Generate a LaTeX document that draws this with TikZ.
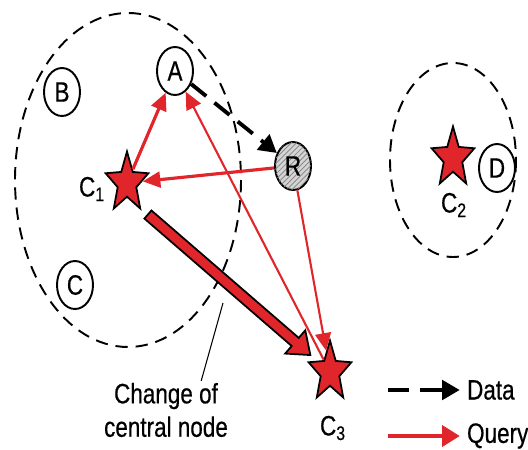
\documentclass[tikz,border=0pt]{standalone}
\usepackage{fontspec}
\setmainfont{Liberation Sans}[FakeStretch=0.8, FakeBold=0.5]
\usetikzlibrary{arrows.meta, positioning, shapes.geometric, shapes.arrows, calc, patterns}
\definecolor{rojo}{HTML}{E0262B}
\definecolor{grisr}{HTML}{D4D4D4}
\tikzset{
  every picture/.style={font=\fontsize{16}{19}\selectfont, >=Triangle},
  nodo/.style={ellipse, draw, line width=1.1pt, minimum width=0.72cm, minimum height=0.96cm, inner sep=0pt},
  centro/.style={star, star points=5, star point ratio=2.3, draw, fill=rojo, line width=1pt,
                 minimum size=0.9cm, inner sep=0pt, yscale=1.4},
  grupo/.style={draw, line width=1.1pt, dash pattern=on 7pt off 4.5pt},
  consulta/.style={-{Triangle[length=10pt, width=9pt]}, line width=1.8pt, rojo},
  consultaf/.style={-{Triangle[length=10pt, width=9pt]}, line width=1.2pt, rojo},
  datos/.style={-{Triangle[length=10pt, width=11pt]}, line width=2.2pt, dash pattern=on 11pt off 6pt},
  cambio/.style={single arrow, draw, fill=rojo, line width=1pt, inner sep=0.09cm,
                 single arrow head extend=0.2cm, single arrow tip angle=75},
  etiqueta/.style={inner sep=1pt},
}

\begin{document}
\begin{tikzpicture}[x=0.02cm, y=-0.02cm]
  \useasboundingbox (0,0) rectangle (528,450);
  % grupos
  \draw[grupo] (128,180) ellipse [x radius=113, y radius=167];
  \draw[grupo] (453,160) ellipse [x radius=63, y radius=97];
  % nodos
  \node[nodo] (A) at (175,71) {A};
  \node[nodo] (B) at (62,92) {B};
  \node[nodo] (C) at (75,285) {C};
  \node[nodo] (D) at (497,168) {D};
  \node[nodo, fill=grisr, postaction={pattern=north east lines, pattern color=gray}] (R) at (293,166) {R};
  \node[centro] (C1) at (127,183) {};
  \node[centro] (C2) at (453,158) {};
  \node[centro] (C3) at (330,372) {};
  \node[etiqueta] (C1l) at (92,189) {C\textsubscript{1}};
  \node[etiqueta] (C2l) at (454,205) {C\textsubscript{2}};
  \node[etiqueta] (C3l) at (333,428) {C\textsubscript{3}};
  % cambio de nodo central
  \coordinate (fs) at ($(C1)+(18,29)$);
  \coordinate (fe) at ($(C3)+(-22,-19)$);
  \path let \p1=($(fe)-(fs)$), \n1={atan2(\y1,\x1)}, \n2={veclen(\x1,\y1)} in
    node[cambio, minimum height=\n2, rotate=\n1] (chgA) at ($(fs)!0.5!(fe)$) {};
  \node[etiqueta, align=center] (chg) at (166,410) {Change of\\central node};
  \coordinate (ptr) at (223,303);
  \draw[line width=0.6pt] (ptr) -- ($(chg.north)!0.55!(chg.north east)$);
  % consultas y datos
  \draw[datos] (A) -- (R);
  \draw[consulta] (C1) -- (A);
  \draw[consulta] (R) -- (C1);
  \draw[consultaf] (C3) -- (A);
  \draw[consultaf] (R) -- (C3);
  % leyenda
  \node[etiqueta, anchor=west] (leyd) at (465,390) {Data};
  \node[etiqueta, anchor=west] (leyq) at (465,436) {Query};
  \coordinate (ld) at (388,390);
  \coordinate (lq) at (388,436);
  \draw[datos, dash pattern=on 12pt off 6pt on 40pt, shorten >=3pt] (ld) -- (leyd.west);
  \draw[consulta, -{Triangle[length=10pt, width=12pt]}, shorten >=3pt] (lq) -- (leyq.west);
\end{tikzpicture}
\end{document}
